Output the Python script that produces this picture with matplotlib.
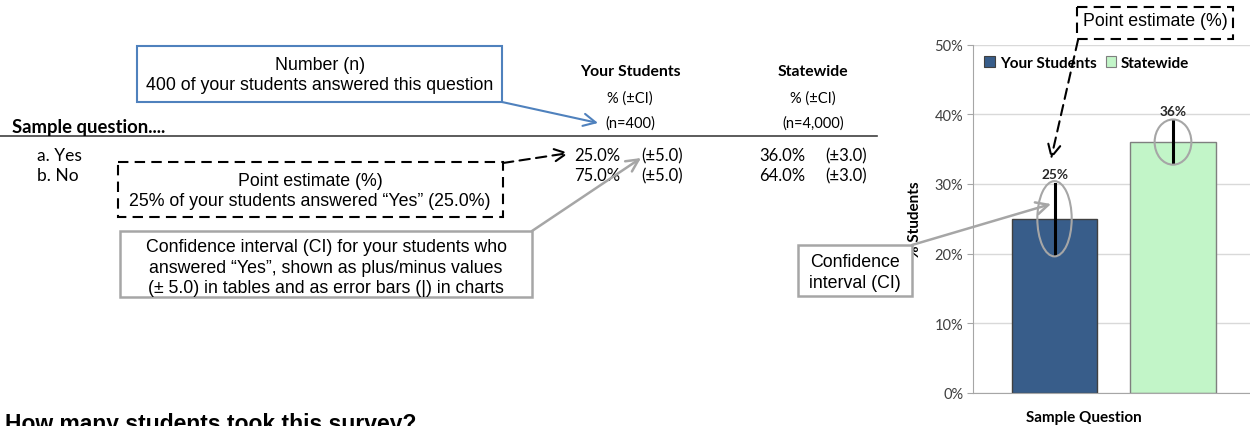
import matplotlib.pyplot as plt
from matplotlib.patches import Rectangle, Ellipse

# data
groups = ["Your Students", "Statewide"]
n_labels = ["(n=400)", "(n=4,000)"]
answers = ["a. Yes", "b. No"]
pct = [[25.0, 75.0], [36.0, 64.0]]   # per group: Yes, No
ci = [5.0, 3.0]
yes_pct = [25, 36]
yticks = [0, 10, 20, 30, 40, 50]
bar_colors = ["#385D8A", "#C2F5C8"]
bar_edges = ["#404040", "#7F7F7F"]

CAL = "Lato"
ARI = "Liberation Sans"
FS = 12.8  # callout text size

fig = plt.figure(figsize=(12.5, 4.27), dpi=100)

# ---- bar chart ----
W, H = 1250, 427
x0, x1, ytop, ybot = 973, 1250, 45.5, 394
ax = fig.add_axes([x0 / W, 1 - ybot / H, (x1 - x0) / W, (ybot - ytop) / H])
xs = [0, 1]
ax.bar(xs, yes_pct, width=0.72, color=bar_colors, edgecolor=bar_edges, linewidth=1, zorder=2)
for x, v, e in zip(xs, yes_pct, ci):
    ax.plot([x, x], [v - e, v + e], color="black", lw=2.2, zorder=3)
    ax.add_patch(Ellipse((x, v), 0.29 + 0.02 * x, 2 * e * 1.08, fill=False,
                         edgecolor="#A6A6A6", lw=1.5, zorder=4))
    ax.text(x, v + e + 0.6, f"{v}%", ha="center", va="bottom", fontsize=9.8,
            fontweight="bold", family=CAL, color="#262626")
ax.set_xlim(-0.688, 1.65)
ax.set_ylim(0, 50)
ax.set_yticks(yticks)
ax.set_yticklabels([f"{t}%" for t in yticks], family=CAL, fontsize=10.5, color="#404040")
ax.set_xticks([])
ax.grid(axis="y", color="#D9D9D9", lw=1, zorder=0)
for s in ["top", "right"]:
    ax.spines[s].set_visible(False)
ax.spines["left"].set_color("#A6A6A6")
ax.spines["bottom"].set_color("#A6A6A6")
ax.tick_params(axis="y", length=4, color="#A6A6A6", pad=3)
ax.set_ylabel("% Students", family=CAL, fontweight="bold", fontsize=11)
ax.yaxis.set_label_coords(-0.185, 0.5)
ax.set_xlabel("Sample Question", family=CAL, fontweight="bold", fontsize=11)
ax.xaxis.set_label_coords(0.40, -0.05)
handles = [Rectangle((0, 0), 1, 1, facecolor=c, edgecolor=e, lw=0.8) for c, e in zip(bar_colors, bar_edges)]
leg = ax.legend(handles, groups, loc="upper left", bbox_to_anchor=(0.0, 1.0), ncol=2,
                frameon=False, handlelength=0.7, handleheight=0.7, handletextpad=0.3,
                columnspacing=0.6, borderaxespad=0.55, borderpad=0.2,
                prop={"family": CAL, "weight": "bold", "size": 11})

# ---- overlay in pixel coords ----
ov = fig.add_axes([0, 0, 1, 1])
ov.set_xlim(0, W)
ov.set_ylim(H, 0)
ov.axis("off")

# table headers
col_x = [630, 813]
for cx, g, nl in zip(col_x, groups, n_labels):
    ov.text(cx, 72, g, ha="center", va="center", family=CAL, fontweight="bold", fontsize=11.3)
    ov.text(cx, 99, "% (±CI)", ha="center", va="center", family=CAL, fontsize=10.5)
    ov.text(cx, 124, nl, ha="center", va="center", family=CAL, fontsize=10.5)
ov.text(12, 127, "Sample question....", ha="left", va="center", family=CAL,
        fontweight="bold", fontsize=13.3)
ov.plot([0, 877], [137, 137], color="#404040", lw=1.2)

row_y = [156, 176]
pct_right = [620, 805]
ci_left = [641, 825]
for i, (a, ry) in enumerate(zip(answers, row_y)):
    ov.text(37, ry, a, ha="left", va="center", family=CAL, fontsize=12.5)
    for g in range(2):
        ov.text(pct_right[g], ry, f"{pct[g][i]:.1f}%", ha="right", va="center",
                family=CAL, fontsize=12)
        ov.text(ci_left[g], ry, f"(±{ci[g]:.1f})", ha="left", va="center",
                family=CAL, fontsize=12)

# blue "Number (n)" box
ov.add_patch(Rectangle((137, 47), 365, 56, fill=False, edgecolor="#4F81BD", lw=1.5))
ov.text(320, 65, "Number (n)", ha="center", va="center", family=ARI, fontsize=FS)
ov.text(320, 86, "400 of your students answered this question", ha="center", va="center",
        family=ARI, fontsize=FS)
ov.annotate("", xy=(598, 124), xytext=(502, 103),
            arrowprops=dict(arrowstyle="->", color="#4F81BD", lw=1.5, mutation_scale=22,
                            shrinkA=0, shrinkB=0))

# dashed point estimate box
ov.add_patch(Rectangle((118, 163), 385, 55, fill=False, edgecolor="black", lw=1.5, ls=(0, (5, 3))))
ov.text(310, 182, "Point estimate (%)", ha="center", va="center", family=ARI, fontsize=FS)
ov.text(310, 202, "25% of your students answered \u201cYes\u201d (25.0%)", ha="center",
        va="center", family=ARI, fontsize=FS)
ov.annotate("", xy=(569, 154), xytext=(503, 164),
            arrowprops=dict(arrowstyle="->", color="black", lw=1.5, ls=(0, (5, 3)),
                            mutation_scale=22, shrinkA=0, shrinkB=0))

# gray CI box
ov.add_patch(Rectangle((120, 232), 412, 66, facecolor="white", edgecolor="#A6A6A6", lw=1.8))
ci_lines = ["Confidence interval (CI) for your students who",
            "answered \u201cYes\u201d, shown as plus/minus values",
            "(\u00b1 5.0) in tables and as error bars (|) in charts"]
for k, t in enumerate(ci_lines):
    ov.text(326, 248 + 20.5 * k, t, ha="center", va="center", family=ARI, fontsize=FS)
ov.annotate("", xy=(641, 159), xytext=(532, 232),
            arrowprops=dict(arrowstyle="->", color="#A6A6A6", lw=1.8, mutation_scale=22,
                            shrinkA=0, shrinkB=0))

# chart CI box
ov.add_patch(Rectangle((798, 246), 114, 51, facecolor="white", edgecolor="#A6A6A6", lw=1.8))
ov.text(855, 263, "Confidence", ha="center", va="center", family=ARI, fontsize=FS)
ov.text(855, 284, "interval (CI)", ha="center", va="center", family=ARI, fontsize=FS)
ov.annotate("", xy=(1051, 205), xytext=(912, 246),
            arrowprops=dict(arrowstyle="->", color="#A6A6A6", lw=1.8, mutation_scale=22,
                            shrinkA=0, shrinkB=0))

# chart point estimate box
ov.add_patch(Rectangle((1077, 8), 156, 32, facecolor="white", edgecolor="black", lw=1.5,
                       ls=(0, (5, 3))))
ov.text(1155, 22, "Point estimate (%)", ha="center", va="center", family=ARI, fontsize=FS)
ov.annotate("", xy=(1051, 160), xytext=(1078, 41),
            arrowprops=dict(arrowstyle="->", color="black", lw=1.5, ls=(0, (5, 3)),
                            mutation_scale=22, shrinkA=0, shrinkB=0))

ov.text(5, 425, "How many students took this survey?", ha="left", va="center", family=ARI,
        fontweight="bold", fontsize=16.5)

fig.savefig("out.png", dpi=100)
